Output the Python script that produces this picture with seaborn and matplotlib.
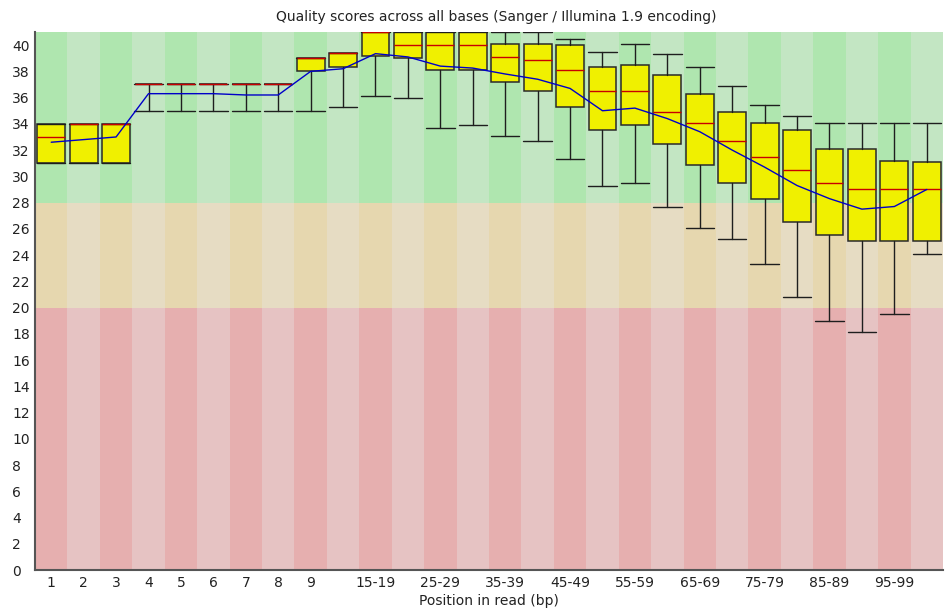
import matplotlib

matplotlib.use("Agg")
import matplotlib.pyplot as plt
import numpy as np
import pandas as pd
import seaborn as sns

# Per-base quality summary
categories = [
    "1", "2", "3", "4", "5", "6", "7", "8", "9",
    "10-14", "15-19", "20-24", "25-29", "30-34", "35-39", "40-44",
    "45-49", "50-54", "55-59", "60-64", "65-69", "70-74", "75-79",
    "80-84", "85-89", "90-94", "95-99", "100-101",
]
# only every other group label fits under the axis
shown_labels = [
    "1", "2", "3", "4", "5", "6", "7", "8", "9",
    "", "15-19", "", "25-29", "", "35-39", "",
    "45-49", "", "55-59", "", "65-69", "", "75-79",
    "", "85-89", "", "95-99", "",
]
median = [33, 34, 34, 37, 37, 37, 37, 37, 39, 39.4, 41, 40, 40, 40, 39.1, 38.9,
          38.1, 36.5, 36.5, 34.9, 34.1, 32.7, 31.5, 30.5, 29.5, 29, 29, 29]
q1 = [31, 31, 31, 37, 37, 37, 37, 37, 38, 38.3, 39.2, 39, 38.1, 38.1, 37.2, 36.5,
      35.3, 33.5, 33.9, 32.5, 30.9, 29.5, 28.3, 26.5, 25.5, 25.1, 25.1, 25.1]
q3 = [34, 34, 34, 37, 37, 37, 37, 37, 39, 39.4, 41, 41, 41, 41, 40.1, 40.1,
      40, 38.3, 38.5, 37.7, 36.3, 34.9, 34.1, 33.5, 32.1, 32.1, 31.2, 31.1]
p10 = [31, 31, 31, 35, 35, 35, 35, 35, 35, 35.3, 36.1, 36, 33.7, 33.9, 33.1, 32.7,
       31.3, 29.3, 29.5, 27.7, 26.1, 25.2, 23.3, 20.8, 19, 18.1, 19.5, 24.1]
p90 = [34, 34, 34, 37, 37, 37, 37, 37, 39, 39.4, 41, 41, 41, 41, 41, 41,
       40.5, 39.5, 40.1, 39.3, 38.3, 36.9, 35.4, 34.6, 34.1, 34.1, 34.1, 34.1]
mean = [32.6, 32.8, 33.0, 36.3, 36.3, 36.3, 36.2, 36.2, 38.0, 38.2, 39.35, 39.1,
        38.4, 38.25, 37.8, 37.4, 36.7, 35.0, 35.2, 34.4, 33.4, 32.0, 30.7, 29.3,
        28.3, 27.5, 27.7, 29.0]

# quality zones: (bottom, top, dark colour, light colour)
zones = [
    (0, 20, "#e6afaf", "#e6c3c3"),
    (20, 28, "#e6d7af", "#e6dcc3"),
    (28, 41, "#afe6af", "#c3e6c3"),
]

sns.set_theme(style="white")
plt.rcParams["font.family"] = ["DejaVu Sans"]

fig = plt.figure(figsize=(9.51, 6.12), dpi=100)
ax = fig.add_axes([35 / 951, 42 / 612, 908 / 951, 538 / 612])

pos = np.arange(len(categories))

# alternating column shading inside each zone
for lo, hi, dark, light in zones:
    cols = [dark if i % 2 == 0 else light for i in pos]
    ax.bar(pos, hi - lo, bottom=lo, width=1.0, color=cols, linewidth=0, zorder=0)

stats = [
    {"label": c, "med": m, "q1": a, "q3": b, "whislo": lo, "whishi": hi, "fliers": []}
    for c, m, a, b, lo, hi in zip(categories, median, q1, q3, p10, p90)
]
ax.bxp(
    stats,
    positions=pos,
    widths=0.86,
    capwidths=0.88,
    showfliers=False,
    patch_artist=True,
    boxprops={"facecolor": "#f0f000", "edgecolor": "#2a2a2a", "linewidth": 1.1},
    medianprops={"color": "#c80000", "linewidth": 1.0},
    whiskerprops={"color": "#1e1e1e", "linewidth": 1.0},
    capprops={"color": "#1e1e1e", "linewidth": 1.0},
    zorder=2,
)

df = pd.DataFrame({"pos": pos, "mean": mean})
sns.lineplot(data=df, x="pos", y="mean", color="#0000c8", linewidth=1.0, ax=ax, zorder=3)

ax.set_xlim(-0.5, len(categories) - 0.5)
ax.set_ylim(0, 41)
ax.set_yticks(np.arange(0, 41, 2))
ax.set_xticks(pos)
ax.set_xticklabels(shown_labels)
ax.tick_params(axis="both", length=0, labelsize=10, colors="#222222")
ax.tick_params(axis="y", pad=16.5)
for lab in ax.get_yticklabels():
    lab.set_horizontalalignment("left")
ax.tick_params(axis="x", pad=4)

for side in ["top", "right"]:
    ax.spines[side].set_visible(False)
for side in ["left", "bottom"]:
    ax.spines[side].set_color("#555555")
    ax.spines[side].set_linewidth(1.5)

ax.set_xlabel("Position in read (bp)", fontsize=10, color="#222222", labelpad=3)
ax.set_ylabel("")
ax.set_title("Quality scores across all bases (Sanger / Illumina 1.9 encoding)",
             fontsize=10, color="#222222", pad=8, x=0.508)

fig.savefig("out.png", dpi=100)
